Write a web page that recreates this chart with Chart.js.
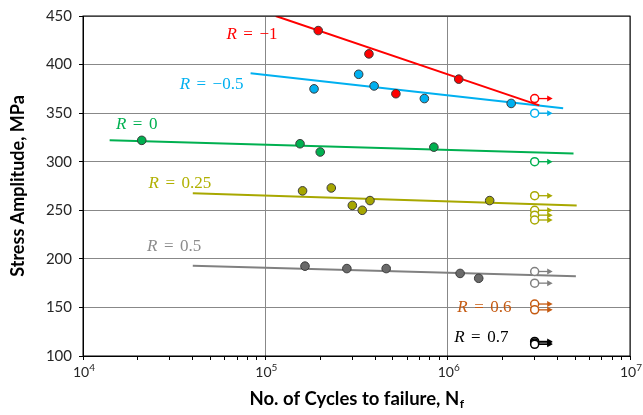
<!DOCTYPE html>
<html>
<head>
<meta charset="utf-8">
<script src="https://cdn.jsdelivr.net/npm/chart.js@4.4.1/dist/chart.umd.min.js"></script>
<style>
	html, body { margin: 0; padding: 0; background: #fff; }
	#wrap { width: 643px; height: 415px; }
</style>
</head>
<body>
<div id="wrap"><canvas id="snChart" width="643" height="415"></canvas></div>
<script>
// data (N = cycles, S = stress amplitude MPa)
var runoutN = 3e6;

// R = -1
var rm1N = [1.95e5, 3.7e5, 5.2e5, 1.15e6];
var rm1S = [435, 411, 370, 385];
var rm1RunS = [365];
var rm1FitN = [1.14e5, 3.18e6];
var rm1FitS = [450, 358];

// R = -0.5
var rm05N = [1.85e5, 3.25e5, 3.95e5, 7.45e5, 2.23e6];
var rm05S = [375, 390, 378, 365, 360];
var rm05RunS = [350];
var rm05FitN = [8.3e4, 4.3e6];
var rm05FitS = [391, 355];

// R = 0
var r0N = [2.1e4, 1.55e5, 2.0e5, 8.4e5];
var r0S = [322, 318.5, 310, 315];
var r0RunS = [300];
var r0FitN = [1.4e4, 4.9e6];
var r0FitS = [322, 308.5];

// R = 0.25
var r025N = [1.6e5, 2.3e5, 3.0e5, 3.4e5, 3.75e5, 1.7e6];
var r025S = [270, 273, 255, 250, 260, 260];
var r025RunS = [265, 250, 245, 240];
var r025FitN = [4.0e4, 5.1e6];
var r025FitS = [267.5, 255];

// R = 0.5
var r05N = [1.65e5, 2.8e5, 4.6e5, 1.17e6, 1.48e6];
var r05S = [192.5, 190, 190, 185, 180];
var r05RunS = [187, 175];
var r05FitN = [4.0e4, 5.05e6];
var r05FitS = [193, 182];

// R = 0.6 / 0.7 (runouts only)
var r06RunS = [153.5, 147.5];
var r07RunS = [115, 113.5, 112];

// R labels
var labelText = ['\u22121', '\u22120.5', '0', '0.25', '0.5', '0.6', '0.7'];
var labelN = [8.45e4, 5.07e4, 1.97e4, 3.4e4, 3.16e4, 1.59e6, 1.53e6];
var labelS = [431, 379, 338.5, 277.5, 213, 150, 119.5];
var labelColor = ['#ff0000', '#00b0f0', '#00b050', '#b0b000', '#8c8c8c', '#c55a11', '#000000'];

var yTicks = [100, 150, 200, 250, 300, 350, 400, 450];

var FONT = 'Lato, "Open Sans", sans-serif';

function pts(xs, ys){
	var out = [];
	for(var i = 0; i < ys.length; i++){
		out.push({x: Array.isArray(xs) ? xs[i] : xs, y: ys[i]});
	}
	return out;
}

function isDecade(v){
	var l = Math.log10(v);
	return Math.abs(l - Math.round(l)) < 1e-9;
}

// one series = fit line + failures + runouts
function series(color, pointFill, N, S, runS, fitN, fitS){
	var ds = [];
	if(fitN){
		ds.push({
			data: pts(fitN, fitS), showLine: true, borderColor: color, borderWidth: 2,
			pointRadius: 0, order: 3
		});
	}
	if(N){
		ds.push({
			data: pts(N, S), showLine: false, pointRadius: 4.3, pointHoverRadius: 4.3,
			backgroundColor: pointFill, borderColor: '#3a3a3a', borderWidth: 1, order: 1
		});
	}
	ds.push({
		data: pts(runoutN, runS), showLine: false, pointRadius: 4, pointHoverRadius: 4,
		backgroundColor: '#ffffff', borderColor: color, borderWidth: 1.5, order: 2, runout: true
	});
	return ds;
}

var datasets = [].concat(
	series('#ff0000', '#ff0000', rm1N, rm1S, rm1RunS, rm1FitN, rm1FitS),
	series('#00b0f0', '#00b0f0', rm05N, rm05S, rm05RunS, rm05FitN, rm05FitS),
	series('#00b050', '#00b050', r0N, r0S, r0RunS, r0FitN, r0FitS),
	series('#a8a800', '#a6a600', r025N, r025S, r025RunS, r025FitN, r025FitS),
	series('#808080', '#6a6a6a', r05N, r05S, r05RunS, r05FitN, r05FitS),
	series('#c55a11', '#c55a11', null, null, r06RunS, null, null),
	series('#000000', '#000000', null, null, r07RunS, null, null)
);

// runout arrows
var arrowPlugin = {
	id: 'arrows',
	afterDatasetsDraw: function(chart){
		var ctx = chart.ctx;
		chart.data.datasets.forEach(function(ds, i){
			if(!ds.runout) return;
			chart.getDatasetMeta(i).data.forEach(function(el){
				ctx.save();
				ctx.strokeStyle = ds.borderColor;
				ctx.fillStyle = ds.borderColor;
				ctx.lineWidth = 1.3;
				ctx.beginPath();
				ctx.moveTo(el.x + 4, el.y);
				ctx.lineTo(el.x + 14, el.y);
				ctx.stroke();
				ctx.beginPath();
				ctx.moveTo(el.x + 18, el.y);
				ctx.lineTo(el.x + 12.5, el.y - 3);
				ctx.lineTo(el.x + 12.5, el.y + 3);
				ctx.closePath();
				ctx.fill();
				ctx.restore();
			});
		});
	}
};

// frame, R labels, x tick labels with exponent, x title with subscript
var decoPlugin = {
	id: 'deco',
	afterDraw: function(chart){
		var ctx = chart.ctx, a = chart.chartArea;
		var xs = chart.scales.x, ys = chart.scales.y;
		ctx.save();
		ctx.strokeStyle = '#000';
		ctx.lineWidth = 1;
		ctx.strokeRect(a.left, a.top, a.right - a.left, a.bottom - a.top);

		// R = ... labels
		ctx.textBaseline = 'middle';
		ctx.textAlign = 'left';
		var fR = 'italic 17px "Liberation Serif", serif';
		var fT = '17px "Liberation Serif", serif';
		for(var i = 0; i < labelText.length; i++){
			var px = xs.getPixelForValue(labelN[i]);
			var py = ys.getPixelForValue(labelS[i]);
			ctx.font = fR; var wR = ctx.measureText('R').width;
			ctx.font = fT;
			var wEq = ctx.measureText('=').width;
			var wV = ctx.measureText(labelText[i]).width;
			var gap = 6.5;
			var total = wR + gap + wEq + gap + wV;
			var x0 = px - total / 2;
			ctx.fillStyle = labelColor[i];
			ctx.font = fR; ctx.fillText('R', x0, py);
			ctx.font = fT;
			ctx.fillText('=', x0 + wR + gap, py);
			ctx.fillText(labelText[i], x0 + wR + gap + wEq + gap, py);
		}

		// 10^n tick labels
		ctx.fillStyle = '#262626';
		for(var e = 4; e <= 7; e++){
			var tx = xs.getPixelForValue(Math.pow(10, e));
			ctx.font = '14px ' + FONT; var wb = ctx.measureText('10').width;
			ctx.font = '10px ' + FONT; var we = ctx.measureText(String(e)).width;
			var sx = tx - (wb + we) / 2 + 1;
			ctx.font = '14px ' + FONT; ctx.fillText('10', sx, a.bottom + 16);
			ctx.font = '10px ' + FONT; ctx.fillText(String(e), sx + wb, a.bottom + 12);
		}

		// x title
		var t1 = 'No. of Cycles to failure, N';
		ctx.font = 'bold 18.5px ' + FONT; var w1 = ctx.measureText(t1).width;
		ctx.font = 'bold 12px ' + FONT; var w2 = ctx.measureText('f').width;
		var cx = (a.left + a.right) / 2 - (w1 + w2) / 2;
		ctx.fillStyle = '#000';
		ctx.font = 'bold 18.5px ' + FONT; ctx.fillText(t1, cx, a.bottom + 43);
		ctx.font = 'bold 12px ' + FONT; ctx.fillText('f', cx + w1 + 0.5, a.bottom + 48);
		ctx.restore();
	}
};

var config = {
	type: 'scatter',
	data: { datasets: datasets },
	options: {
		responsive: false,
		animation: false,
		layout: { padding: { left: 0, right: 13, top: 15, bottom: 0 } },
		plugins: { legend: { display: false }, tooltip: { enabled: false } },
		scales: {
			x: {
				type: 'logarithmic', min: 1e4, max: 1e7,
				afterBuildTicks: function(scale){
					var t = [];
					for(var e = 4; e < 7; e++){
						for(var m = 1; m < 10; m++) t.push({ value: m * Math.pow(10, e) });
					}
					t.push({ value: 1e7 });
					scale.ticks = t;
				},
				afterFit: function(scale){ scale.height = 59; },
				ticks: { callback: function(){ return ''; }, autoSkip: false, maxRotation: 0 },
				grid: {
					color: function(c){ return isDecade(c.tick.value) ? '#888888' : 'rgba(0,0,0,0)'; },
					tickColor: '#000', tickLength: 4
				},
				border: { color: '#000' }
			},
			y: {
				min: 100, max: 450,
				afterBuildTicks: function(scale){
					scale.ticks = yTicks.map(function(v){ return { value: v }; });
				},
				afterFit: function(scale){ scale.width = 83; },
				ticks: { padding: 7, color: '#262626', font: { family: FONT, size: 15 } },
				grid: { color: '#888888', tickColor: '#000', tickLength: 4 },
				border: { color: '#000' },
				title: {
					display: true, text: 'Stress Amplitude, MPa', color: '#000',
					font: { family: FONT, size: 18, weight: 'bold' }, padding: { top: 7, bottom: 0 }
				}
			}
		}
	},
	plugins: [arrowPlugin, decoPlugin]
};

new Chart(document.getElementById('snChart'), config);
</script>
</body>
</html>
